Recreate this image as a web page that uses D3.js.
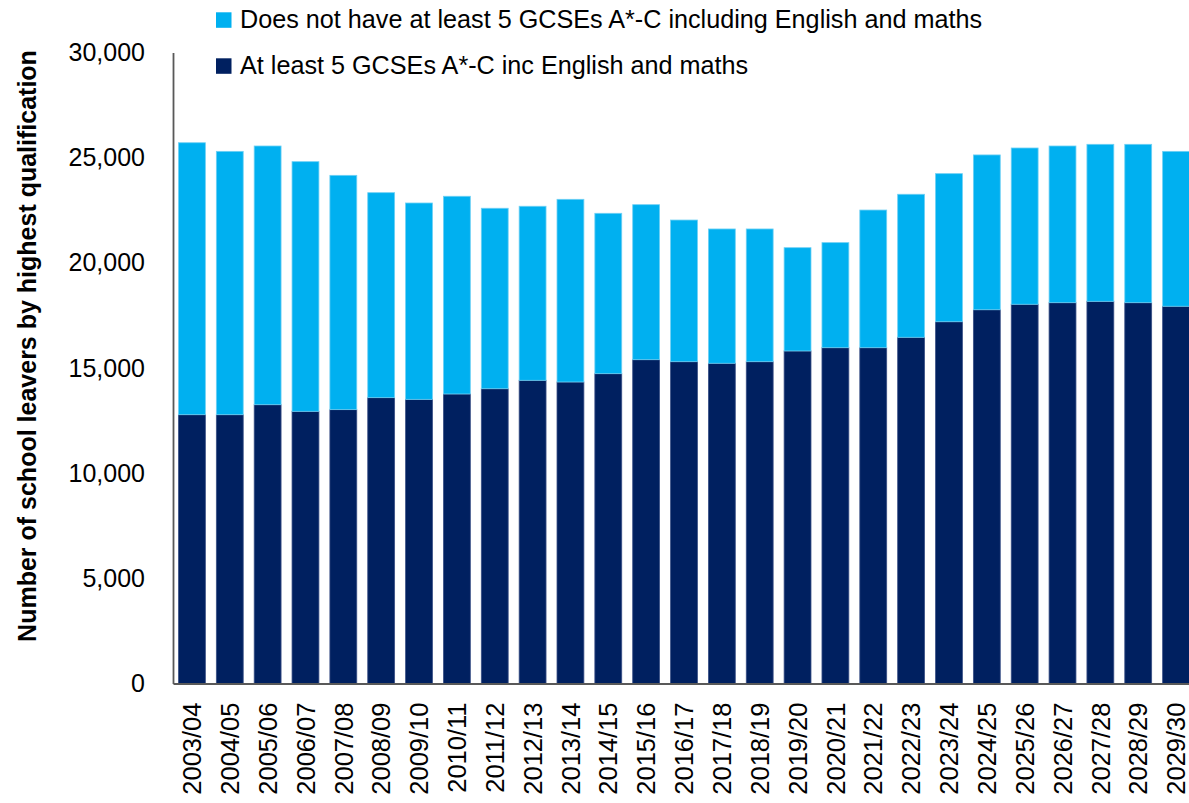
<!DOCTYPE html>
<html>
<head>
<meta charset="utf-8">
<script src="https://cdn.jsdelivr.net/npm/d3@7"></script>
<style>
    body { margin: 0; background: #fff; }
    svg { display: block; font-family: 'Liberation Sans', Arial, sans-serif; }
</style>
</head>
<body>
<svg id="chart" width="1189" height="803"></svg>
<script>
// School leavers by highest qualification (stacked)

const years = [
    '2003/04', '2004/05', '2005/06', '2006/07', '2007/08', '2008/09', '2009/10',
    '2010/11', '2011/12', '2012/13', '2013/14', '2014/15', '2015/16', '2016/17',
    '2017/18', '2018/19', '2019/20', '2020/21', '2021/22', '2022/23', '2023/24',
    '2024/25', '2025/26', '2026/27', '2027/28', '2028/29', '2029/30'
];

// At least 5 GCSEs A*-C inc English and maths
const atLeast5 = [
    12780, 12780, 13255, 12940, 13020, 13590, 13510,
    13765, 14015, 14415, 14335, 14730, 15395, 15300,
    15225, 15300, 15810, 15965, 15965, 16460, 17200,
    17770, 18030, 18105, 18170, 18105, 17935
];

// Does not have at least 5 GCSEs A*-C including English and maths
const notAtLeast5 = [
    12930, 12520, 12300, 11870, 11140, 9745, 9335,
    9400, 8580, 8275, 8685, 7625, 7370, 6735,
    6385, 6310, 4910, 4995, 6545, 6800, 7040,
    7360, 7430, 7450, 7465, 7530, 7365
];

const yTicks = [0, 5000, 10000, 15000, 20000, 25000, 30000];

const seriesKeys = ['atLeast5', 'notAtLeast5'];
const seriesLabels = {
    atLeast5: 'At least 5 GCSEs A*-C inc English and maths',
    notAtLeast5: 'Does not have at least 5 GCSEs A*-C including English and maths'
};
const colors = { atLeast5: '#002060', notAtLeast5: '#00B0F0' };
const strokes = { atLeast5: '#3a5086', notAtLeast5: '#6fd0f4' };

const yTitle = 'Number of school leavers by highest qualification';

const rows = years.map((yr, i) => ({
    year: yr,
    atLeast5: atLeast5[i],
    notAtLeast5: notAtLeast5[i]
}));

const svg = d3.select('#chart');

const x = d3.scaleBand()
    .domain(years)
    .range([173, 1195])
    .paddingInner(0.29)
    .paddingOuter(0.145);

const y = d3.scaleLinear()
    .domain([0, 30000])
    .range([683.5, 52.5]);

// Bars
const stacked = d3.stack().keys(seriesKeys)(rows);

svg.append('g')
    .selectAll('g')
    .data(stacked)
    .join('g')
    .attr('fill', d => colors[d.key])
    .attr('stroke', d => strokes[d.key])
    .attr('stroke-width', 0.8)
    .selectAll('rect')
    .data(d => d)
    .join('rect')
    .attr('x', d => x(d.data.year))
    .attr('y', d => y(d[1]))
    .attr('width', x.bandwidth())
    .attr('height', d => y(d[0]) - y(d[1]));

// Y axis
const yAxis = svg.append('g')
    .attr('transform', 'translate(173,0)')
    .call(d3.axisLeft(y)
        .tickValues(yTicks)
        .tickSize(0)
        .tickPadding(28)
        .tickFormat(d3.format(',')));

yAxis.select('.domain')
    .attr('stroke', '#595959')
    .attr('stroke-width', 1.8);

yAxis.selectAll('text')
    .attr('font-size', 25)
    .attr('fill', '#000')
    .attr('font-family', "'Liberation Sans', Arial, sans-serif");

// X axis
const xAxis = svg.append('g')
    .attr('transform', 'translate(0,683.5)')
    .call(d3.axisBottom(x).tickSize(0).tickSizeOuter(0));

xAxis.select('.domain')
    .attr('stroke', '#595959')
    .attr('stroke-width', 1.8);

xAxis.selectAll('text')
    .attr('transform', 'rotate(-90)')
    .attr('x', -19)
    .attr('y', 0)
    .attr('dy', '0.36em')
    .attr('text-anchor', 'end')
    .attr('font-size', 25.5)
    .attr('fill', '#000')
    .attr('font-family', "'Liberation Sans', Arial, sans-serif");

// Axis title
svg.append('text')
    .attr('transform', 'translate(36,346) rotate(-90)')
    .attr('text-anchor', 'middle')
    .attr('font-size', 25)
    .attr('font-weight', 'bold')
    .attr('fill', '#000')
    .text(yTitle);

// Legend
const legendItems = [
    { key: 'notAtLeast5', top: 12.3, base: 28 },
    { key: 'atLeast5', top: 58.3, base: 74.3 }
];

const legend = svg.append('g');

legendItems.forEach(item => {
    legend.append('rect')
        .attr('x', 216)
        .attr('y', item.top)
        .attr('width', 15.5)
        .attr('height', 15.5)
        .attr('fill', colors[item.key]);

    legend.append('text')
        .attr('x', 240)
        .attr('y', item.base)
        .attr('font-size', 25.2)
        .attr('fill', '#000')
        .text(seriesLabels[item.key]);
});
</script>
</body>
</html>
